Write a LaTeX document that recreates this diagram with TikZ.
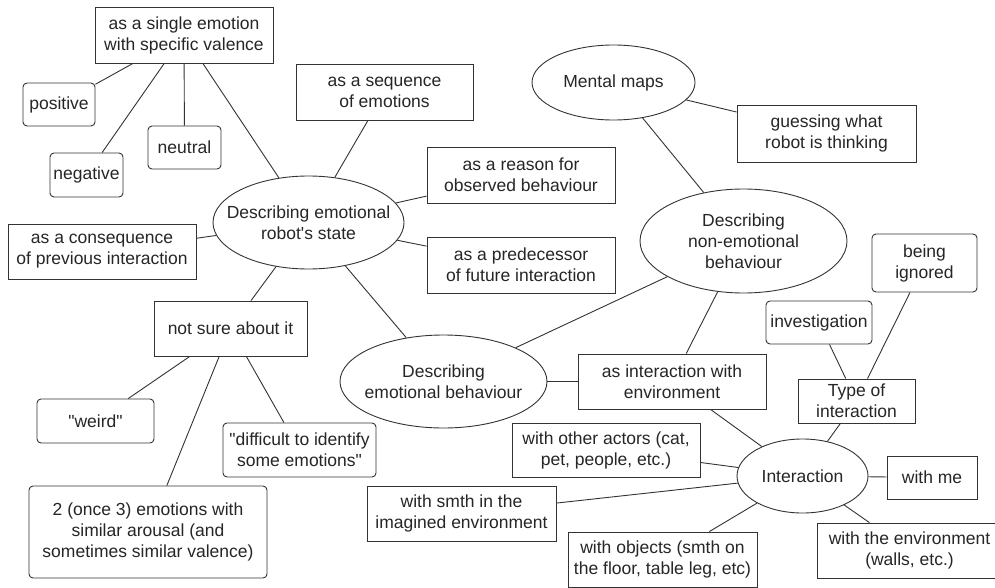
\documentclass[tikz,border=0pt]{standalone}
\usepackage{fontspec}
\setmainfont{Liberation Sans}[Ligatures=TeXOff]
\usetikzlibrary{shapes.geometric}
\begin{document}
\begin{tikzpicture}[x=1pt,y=-1pt,
  txt/.style={text=black!85, font=\fontsize{17.5}{21}\selectfont, align=center},
  base/.style={txt, draw=black!80, line width=0.9pt, inner sep=0pt},
  box/.style={base, rectangle},
  rbox/.style={base, rectangle, rounded corners=4pt},
  ell/.style={base, ellipse},
  lbl/.style={txt, draw=none, inner sep=0pt},
  conn/.style={draw=black!80, line width=0.9pt}]
\clip (0,0) rectangle (995,588);
\fill[white] (0,0) rectangle (995,588);

% left cluster
\node[box, minimum width=178pt, minimum height=56pt] (single) at (184,35) {as a single emotion\\with specific valence};
\node[rbox, minimum width=72pt, minimum height=43pt] (positive) at (59,104.5) {positive};
\node[rbox, minimum width=73pt, minimum height=44pt] (negative) at (86.5,175) {negative};
\node[rbox, minimum width=73pt, minimum height=43pt] (neutral) at (184.5,147.5) {neutral};
\node[box, minimum width=177pt, minimum height=56pt] (sequence) at (384.5,92) {as a sequence\\of emotions};
\node[ell, minimum width=191pt, minimum height=93pt, label={[lbl]center:Describing emotional\\robot's state}] (rs) at (308.5,222.5) {};
\node[box, minimum width=188pt, minimum height=55pt] (consequence) at (102,251.5) {as a consequence\\of previous interaction};
\node[box, minimum width=188pt, minimum height=56pt] (reason) at (521,175) {as a reason for\\observed behaviour};
\node[box, minimum width=188pt, minimum height=56pt] (predecessor) at (521,265) {as a predecessor\\of future interaction};

% not sure cluster
\node[box, minimum width=153pt, minimum height=55pt] (notsure) at (230.5,328.5) {not sure about it};
\node[rbox, minimum width=117pt, minimum height=44pt] (weird) at (95.5,421) {"weird"};
\node[rbox, minimum width=153pt, minimum height=54pt] (difficult) at (299.5,450) {"difficult to identify\\some emotions"};
\node[rbox, minimum width=238pt, minimum height=92pt] (twoonce) at (148,532) {2 (once 3) emotions with\\similar arousal (and\\sometimes similar valence)};

% right cluster
\node[ell, minimum width=163pt, minimum height=75pt, label={[lbl]center:Mental maps}] (mental) at (613.5,82.5) {};
\node[box, minimum width=179pt, minimum height=57pt] (guessing) at (826.5,133.5) {guessing what\\robot is thinking};
\node[ell, minimum width=207pt, minimum height=104pt, label={[lbl]center:Describing\\non-emotional\\behaviour}] (nonemo) at (743.5,241) {};
\node[rbox, minimum width=105pt, minimum height=58pt] (ignored) at (924.5,263) {being\\ignored};
\node[ell, minimum width=207pt, minimum height=93pt, label={[lbl]center:Describing\\emotional behaviour}] (emob) at (443.5,381.5) {};
\node[box, minimum width=188pt, minimum height=55pt] (asint) at (672,381.5) {as interaction with\\environment};
\node[rbox, minimum width=106pt, minimum height=43pt] (investigation) at (819,322.5) {investigation};
\node[box, minimum width=117pt, minimum height=44pt] (type) at (856.5,401) {Type of\\interaction};
\node[ell, minimum width=131pt, minimum height=74pt, label={[lbl]center:Interaction}] (interaction) at (802.5,476) {};
\node[box, minimum width=90pt, minimum height=43pt] (withme) at (932,477.5) {with me};
\node[box, minimum width=188pt, minimum height=54pt] (others) at (606,450) {with other actors (cat,\\pet, people, etc.)};
\node[box, minimum width=189pt, minimum height=55pt] (smth) at (461.5,513.5) {with smth in the\\imagined environment};
\node[box, minimum width=189pt, minimum height=55pt] (objects) at (662.5,559.5) {with objects (smth on\\the floor, table leg, etc)};
\node[box, minimum width=185pt, minimum height=55pt] (environment) at (909.5,550.5) {with the environment\\(walls, etc.)};

% connectors
\draw[conn] (single) -- (positive);
\draw[conn] (single) -- (negative);
\draw[conn] (single) -- (neutral);
\draw[conn] (single) -- (rs);
\draw[conn] (sequence) -- (rs);
\draw[conn] (consequence) -- (rs);
\draw[conn] (reason) -- (rs);
\draw[conn] (predecessor) -- (rs);
\draw[conn] (notsure) -- (rs);
\draw[conn] (emob) -- (rs);
\draw[conn] (notsure) -- (weird);
\draw[conn] (notsure) -- (difficult);
\draw[conn] (notsure) -- (twoonce);
\draw[conn] (mental) -- (guessing);
\draw[conn] (mental) -- (nonemo);
\draw[conn] (nonemo) -- (emob);
\draw[conn] (nonemo) -- (asint);
\draw[conn] (emob) -- (asint);
\draw[conn] (asint) -- (interaction);
\draw[conn] (investigation) -- (type);
\draw[conn] (ignored) -- (type);
\draw[conn] (type) -- (interaction);
\draw[conn] (others) -- (interaction);
\draw[conn] (smth) -- (interaction);
\draw[conn] (objects) -- (interaction);
\draw[conn] (environment) -- (interaction);
\draw[conn] (withme) -- (interaction);
\end{tikzpicture}
\end{document}
